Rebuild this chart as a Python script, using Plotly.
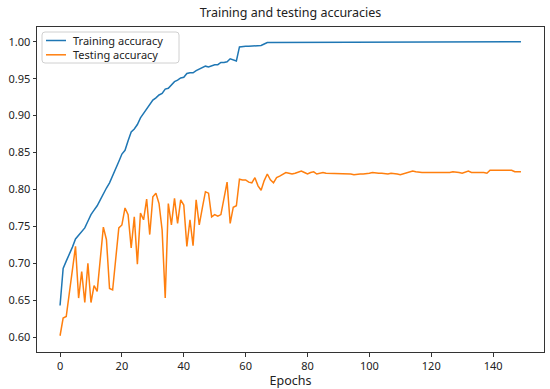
import plotly.graph_objects as go

epochs = list(range(150))

train_acc = [
    0.643, 0.693, 0.703, 0.712, 0.722, 0.733, 0.738, 0.743, 0.748, 0.757,
    0.766, 0.772, 0.778, 0.786, 0.795, 0.802, 0.809, 0.818, 0.828, 0.838,
    0.848, 0.853, 0.866, 0.878, 0.882, 0.888, 0.897, 0.903, 0.908, 0.914,
    0.921, 0.924, 0.928, 0.930, 0.936, 0.937, 0.942, 0.946, 0.948, 0.951,
    0.952, 0.957, 0.958, 0.958, 0.961, 0.963, 0.964, 0.967, 0.966, 0.968,
    0.969, 0.969, 0.972, 0.972, 0.973, 0.977, 0.975, 0.974, 0.993, 0.994,
    0.994, 0.994, 0.994, 0.994, 0.994, 0.995, 0.997, 0.999, 0.999, 0.999,
    1.000, 1.000, 1.000, 1.000, 1.000, 1.000, 1.000, 1.000, 1.000, 1.000,
    1.000, 1.000, 1.000, 1.000, 1.000, 1.000, 1.000, 1.000, 1.000, 1.000,
    1.000, 1.000, 1.000, 1.000, 1.000, 1.000, 1.000, 1.000, 1.000, 1.000,
    1.000, 1.000, 1.000, 1.000, 1.000, 1.000, 1.000, 1.000, 1.000, 1.000,
    1.000, 1.000, 1.000, 1.000, 1.000, 1.000, 1.000, 1.000, 1.000, 1.000,
    1.000, 1.000, 1.000, 1.000, 1.000, 1.000, 1.000, 1.000, 1.000, 1.000,
    1.000, 1.000, 1.000, 1.000, 1.000, 1.000, 1.000, 1.000, 1.000, 1.000,
    1.000, 1.000, 1.000, 1.000, 1.000, 1.000, 1.000, 1.000, 1.000, 1.000,
]

test_acc = [
    0.602, 0.626, 0.628, 0.658, 0.690, 0.723, 0.653, 0.689, 0.647, 0.700,
    0.647, 0.670, 0.662, 0.705, 0.749, 0.732, 0.666, 0.664, 0.706, 0.748,
    0.752, 0.775, 0.766, 0.721, 0.763, 0.699, 0.768, 0.759, 0.787, 0.739,
    0.790, 0.795, 0.781, 0.745, 0.653, 0.781, 0.752, 0.788, 0.754, 0.786,
    0.779, 0.723, 0.759, 0.724, 0.786, 0.752, 0.775, 0.797, 0.795, 0.763,
    0.766, 0.764, 0.766, 0.788, 0.810, 0.754, 0.776, 0.778, 0.814, 0.813,
    0.813, 0.810, 0.809, 0.816, 0.805, 0.799, 0.812, 0.821, 0.813, 0.809,
    0.816, 0.818, 0.820, 0.823, 0.822, 0.821, 0.822, 0.823, 0.825, 0.823,
    0.821, 0.823, 0.824, 0.821, 0.822, 0.823, 0.822, 0.822, 0.821, 0.821,
    0.822, 0.822, 0.822, 0.821, 0.821, 0.820, 0.821, 0.821, 0.821, 0.821,
    0.822, 0.823, 0.822, 0.822, 0.822, 0.821, 0.821, 0.822, 0.822, 0.821,
    0.820, 0.821, 0.822, 0.824, 0.825, 0.824, 0.823, 0.823, 0.823, 0.823,
    0.823, 0.823, 0.823, 0.822, 0.823, 0.823, 0.823, 0.824, 0.824, 0.823,
    0.822, 0.824, 0.825, 0.823, 0.823, 0.824, 0.824, 0.823, 0.822, 0.826,
    0.826, 0.826, 0.826, 0.826, 0.826, 0.827, 0.826, 0.824, 0.824, 0.824,
]

series_names = ["Training accuracy", "Testing accuracy"]
series_colors = ["#1f77b4", "#ff7f0e"]
x_ticks = [0, 20, 40, 60, 80, 100, 120, 140]
y_ticks = [0.60, 0.65, 0.70, 0.75, 0.80, 0.85, 0.90, 0.95, 1.00]

FONT = "Noto Sans"
AX = "#333333"
TXT = "#222222"

W, H = 550, 389
L, R, T, B = 37, 6, 27, 37
PW, PH = W - L - R, H - T - B


def px(X):
    return (X - L) / PW


def py(Y):
    return (H - B - Y) / PH


fig = go.Figure()
for name, color, ys in zip(series_names, series_colors, [train_acc, test_acc]):
    fig.add_trace(go.Scatter(x=epochs, y=ys, mode="lines", name=name,
                             line=dict(color=color, width=1.5), showlegend=False))

# legend drawn as a compact box (matplotlib-style spacing)
bx0, bx1, by0, by1, rr = 42, 179, 32, 63, 3
box_path = (
    f"M {px(bx0 + rr)} {py(by0)} L {px(bx1 - rr)} {py(by0)} "
    f"Q {px(bx1)} {py(by0)} {px(bx1)} {py(by0 + rr)} "
    f"L {px(bx1)} {py(by1 - rr)} Q {px(bx1)} {py(by1)} {px(bx1 - rr)} {py(by1)} "
    f"L {px(bx0 + rr)} {py(by1)} Q {px(bx0)} {py(by1)} {px(bx0)} {py(by1 - rr)} "
    f"L {px(bx0)} {py(by0 + rr)} Q {px(bx0)} {py(by0)} {px(bx0 + rr)} {py(by0)} Z"
)
shapes = [dict(type="path", xref="paper", yref="paper", path=box_path,
               line=dict(color="#d0d0d0", width=1), fillcolor="rgba(255,255,255,0.85)",
               layer="above")]
LEG_Y0, LEG_DY = 40.5, 14.3
for i, color in enumerate(series_colors):
    yy = LEG_Y0 + i * LEG_DY
    shapes.append(dict(type="line", xref="paper", yref="paper",
                       x0=px(46), x1=px(66), y0=py(yy), y1=py(yy),
                       line=dict(color=color, width=1.5), layer="above"))
annotations = [dict(text="<br>".join(series_names), xref="paper", yref="paper",
                    x=px(71), y=py(LEG_Y0 + LEG_DY / 2), xanchor="left", yanchor="middle",
                    align="left", showarrow=False,
                    font=dict(family=FONT, size=11, color=TXT))]

axis_common = dict(showline=True, mirror=True, linecolor=AX, linewidth=1,
                   ticks="outside", ticklen=3.5, tickcolor=AX, showgrid=False,
                   zeroline=False, tickfont=dict(family=FONT, size=11, color=TXT))

fig.update_layout(
    width=W, height=H,
    margin=dict(l=L, r=R, t=T, b=B),
    paper_bgcolor="white", plot_bgcolor="white",
    title=dict(text="Training and testing accuracies", x=0.5, xref="paper", xanchor="center",
               y=1 - 13 / H, yanchor="middle",
               font=dict(family=FONT, size=12.5, color=TXT)),
    xaxis=dict(range=[-7.45, 156.45], tickvals=x_ticks, ticklabelstandoff=0,
               title=dict(text="Epochs", font=dict(family=FONT, size=12.5, color=TXT), standoff=3),
               **axis_common),
    yaxis=dict(range=[0.58, 1.02], tickvals=y_ticks, tickformat=".2f", **axis_common),
    shapes=shapes,
    annotations=annotations,
    showlegend=False,
)

fig.write_html("out.html", config={"displayModeBar": False},
               post_script="document.body.style.margin='0px';")
